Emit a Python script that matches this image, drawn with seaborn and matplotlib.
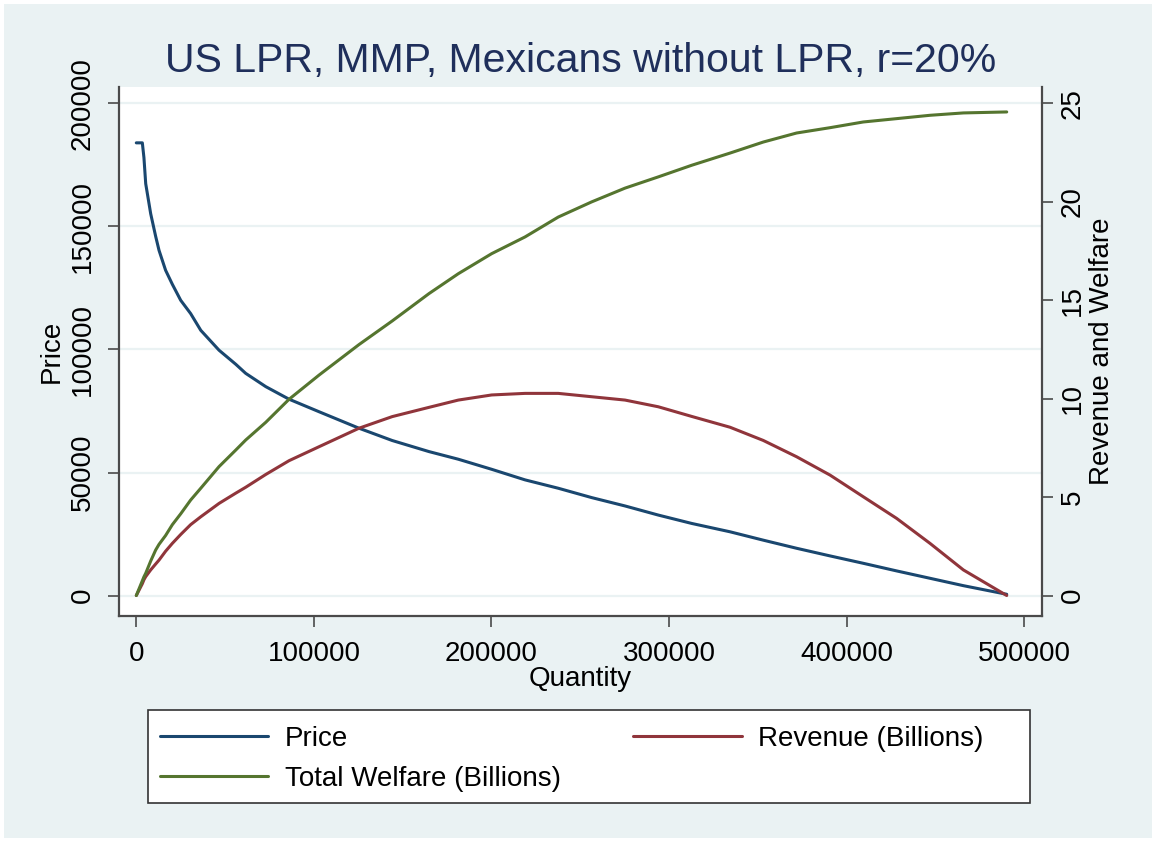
import matplotlib
matplotlib.use("Agg")
import matplotlib.pyplot as plt
from matplotlib.patches import Rectangle
import pandas as pd
import seaborn as sns

# Quantity grid and the three series drawn against it
quantity = [0, 3400, 4300, 5300, 8100, 10900, 12800, 16500, 20300, 25000,
            30600, 36300, 46600, 56000, 61600, 72900, 86000, 102900, 125400,
            144100, 164800, 181300, 200100, 218900, 237600, 256400, 275200,
            293900, 312700, 334300, 353000, 371800, 390600, 409300, 428100,
            446900, 465700, 490100]
price = [184000, 184000, 178000, 167400, 155200, 146000, 140300, 132200,
         126500, 120000, 114600, 107800, 99700, 94000, 90300, 84900, 79800,
         74700, 68000, 63000, 58500, 55400, 51300, 47000, 43600, 39800,
         36400, 32700, 29300, 25900, 22500, 19200, 16100, 13100, 10000,
         7000, 4000, 500]
revenue = [0, 0.6, 0.8, 0.96, 1.3, 1.6, 1.8, 2.25, 2.65, 3.1, 3.6, 4.0,
           4.68, 5.2, 5.5, 6.15, 6.85, 7.56, 8.5, 9.09, 9.56, 9.93, 10.19,
           10.27, 10.27, 10.1, 9.93, 9.59, 9.1, 8.55, 7.88, 7.05, 6.12, 5.02,
           3.92, 2.65, 1.3, 0]
welfare = [0, 0.75, 0.95, 1.13, 1.75, 2.31, 2.6, 3.05, 3.6, 4.15, 4.85,
           5.45, 6.55, 7.39, 7.9, 8.8, 9.97, 11.2, 12.75, 13.95, 15.34, 16.35,
           17.37, 18.22, 19.23, 20.0, 20.7, 21.27, 21.86, 22.48, 23.04, 23.5,
           23.77, 24.06, 24.23, 24.4, 24.52, 24.57]

title = "US LPR, MMP, Mexicans without LPR, r=20%"
x_ticks = [0, 100000, 200000, 300000, 400000, 500000]
price_ticks = [0, 50000, 100000, 150000, 200000]
rw_ticks = [0, 5, 10, 15, 20, 25]
series_labels = ["Price", "Revenue (Billions)", "Total Welfare (Billions)"]

NAVY = "#1a476f"
MAROON = "#90353b"
GREEN = "#55752f"
BG = "#eaf2f3"
AXIS = "#4a4a4a"
TITLE = "#1f2f5b"

sns.set_style("white")
plt.rcParams["font.family"] = ["Liberation Sans", "DejaVu Sans"]
plt.rcParams["text.color"] = "black"
plt.rcParams["axes.labelcolor"] = "black"

W, H = 1156, 842
fig = plt.figure(figsize=(W / 100, H / 100), dpi=100, facecolor="white")
fig.patches.append(Rectangle((4 / W, 4 / H), 1 - 8 / W, 1 - 8 / H,
                             transform=fig.transFigure, facecolor=BG,
                             edgecolor="none", zorder=-10))

ax = fig.add_axes([119 / W, 1 - 616 / H, (1042 - 119) / W, (616 - 87) / H])
ax.set_facecolor("white")

df = pd.DataFrame({"Quantity": quantity, "Price": price,
                   "Revenue": revenue, "Welfare": welfare})

LW = 2.2
sns.lineplot(data=df, x="Quantity", y="Price", ax=ax, color=NAVY,
             linewidth=LW, legend=False)
ax2 = ax.twinx()
sns.lineplot(data=df, x="Quantity", y="Revenue", ax=ax2, color=MAROON,
             linewidth=LW, legend=False)
sns.lineplot(data=df, x="Quantity", y="Welfare", ax=ax2, color=GREEN,
             linewidth=LW, legend=False)

ax.set_xlim(-9740, 509970)
ax.set_ylim(-8330, 206700)
ax2.set_ylim(-8330 / 8000, 206700 / 8000)

ax.set_xticks(x_ticks)
ax.set_xticklabels([str(t) for t in x_ticks])
ax.set_yticks(price_ticks)
ax.set_yticklabels([str(t) for t in price_ticks], rotation=90,
                   rotation_mode="anchor", ha="center", va="baseline")
ax2.set_yticks(rw_ticks)
ax2.set_yticklabels([str(t) for t in rw_ticks], rotation=90,
                    rotation_mode="anchor", ha="center", va="top")

# horizontal grid on the price axis only
ax.grid(axis="y", color=BG, linewidth=1.6)
ax.grid(axis="x", visible=False)
ax2.grid(False)

for a in (ax, ax2):
    for s in a.spines.values():
        s.set_visible(False)
        s.set_color(AXIS)
        s.set_linewidth(1.6)
ax.spines["left"].set_visible(True)
ax.spines["bottom"].set_visible(True)
ax2.spines["right"].set_visible(True)

ax.tick_params(axis="both", direction="out", length=8, width=1.2,
               color=AXIS, labelsize=20, labelcolor="black")
ax.tick_params(axis="x", pad=10, bottom=True)
ax.tick_params(axis="y", pad=13, left=True)
ax2.tick_params(axis="y", direction="out", length=8, width=1.2, color=AXIS,
                labelsize=20, labelcolor="black", pad=5, right=True)

ax.set_xlabel("Quantity", fontsize=20, labelpad=-1)
ax.set_ylabel("Price", fontsize=20, labelpad=4)
ax2.set_ylabel("Revenue and Welfare", fontsize=20, labelpad=2, rotation=90)
ax.set_title(title, fontsize=29.5, color=TITLE, pad=11)

# legend box below the plot
fig.patches.append(Rectangle((148 / W, 1 - 803 / H), (1030 - 148) / W,
                             (803 - 710) / H, transform=fig.transFigure,
                             facecolor="white", edgecolor="#333333",
                             linewidth=1.2, zorder=1))
handles = [ax.lines[0], ax2.lines[1], ax2.lines[0]]
labels = [series_labels[0], series_labels[2], series_labels[1]]
fig.legend(handles, labels, ncol=2, loc="upper left",
           bbox_to_anchor=(160 / W, 1 - 726 / H), frameon=False, fontsize=20,
           handlelength=3.9, handletextpad=0.6, columnspacing=2.6,
           labelspacing=0.5, borderpad=0, borderaxespad=0)

fig.savefig("out.png", dpi=100, facecolor=fig.get_facecolor())
